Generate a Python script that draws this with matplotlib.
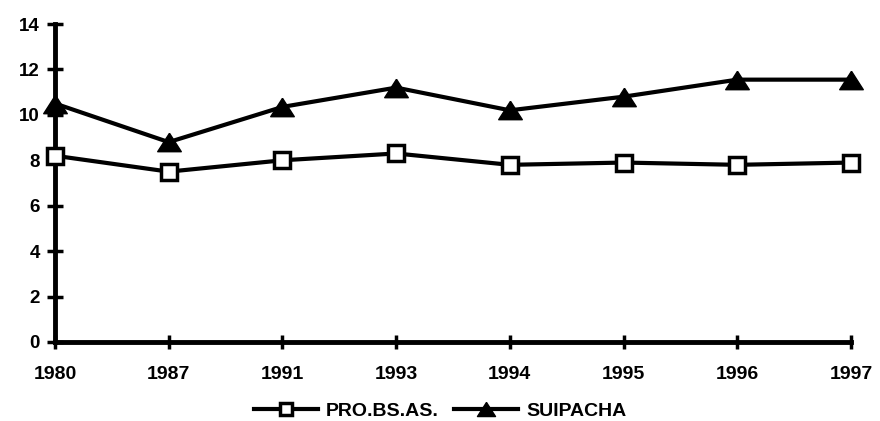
import matplotlib
matplotlib.use("Agg")
import matplotlib.pyplot as plt
from matplotlib.lines import Line2D

# datos
anios = ["1980", "1987", "1991", "1993", "1994", "1995", "1996", "1997"]
prov_bsas = [8.2, 7.5, 8.0, 8.3, 7.8, 7.9, 7.8, 7.9]
suipacha = [10.5, 8.8, 10.35, 11.2, 10.2, 10.8, 11.55, 11.55]
yticks = [0, 2, 4, 6, 8, 10, 12, 14]

plt.rcParams['font.family'] = ['Liberation Sans', 'DejaVu Sans']
plt.rcParams['font.weight'] = 'bold'

# triangulo un poco mas ancho que el de matplotlib
tri = [(0, 0.78), (-1, -0.78), (1, -0.78), (0, 0.78)]

fig = plt.figure(figsize=(8.8, 4.21), dpi=100)
ax = fig.add_axes([55/880, 1 - 342/421, (851 - 55)/880, (342 - 24)/421])

x = list(range(len(anios)))
ax.plot(x, prov_bsas, color='black', lw=3, marker='s', ms=11,
        mfc='white', mec='black', mew=2.5, clip_on=False, zorder=3)
ax.plot(x, suipacha, color='black', lw=3, marker=tri, ms=17,
        mfc='black', mec='black', clip_on=False, zorder=3)

ax.set_xlim(0, len(anios) - 1)
ax.set_ylim(0, 14)
ax.set_xticks(x)
ax.set_xticklabels(anios)
ax.set_yticks(yticks)

for s in ['top', 'right']:
    ax.spines[s].set_visible(False)
for s in ['left', 'bottom']:
    ax.spines[s].set_linewidth(3.5)

ax.tick_params(axis='y', direction='inout', length=12, width=2.5,
               labelsize=13.5, pad=5)
ax.tick_params(axis='x', direction='inout', length=10, width=2.5,
               labelsize=14, pad=12)

handles = [
    Line2D([], [], color='black', lw=3, marker='s', ms=8, mfc='white',
           mec='black', mew=2.5),
    Line2D([], [], color='black', lw=3, marker=tri, ms=13, mfc='black'),
]
fig.legend(handles, ['PRO.BS.AS.', 'SUIPACHA'], loc='center',
           bbox_to_anchor=(0.5, 1 - 411/421), ncol=2, frameon=False,
           fontsize=14, handlelength=3.3, handletextpad=0.4,
           columnspacing=0.8, borderpad=0.2)

fig.savefig("out.png", dpi=100)
